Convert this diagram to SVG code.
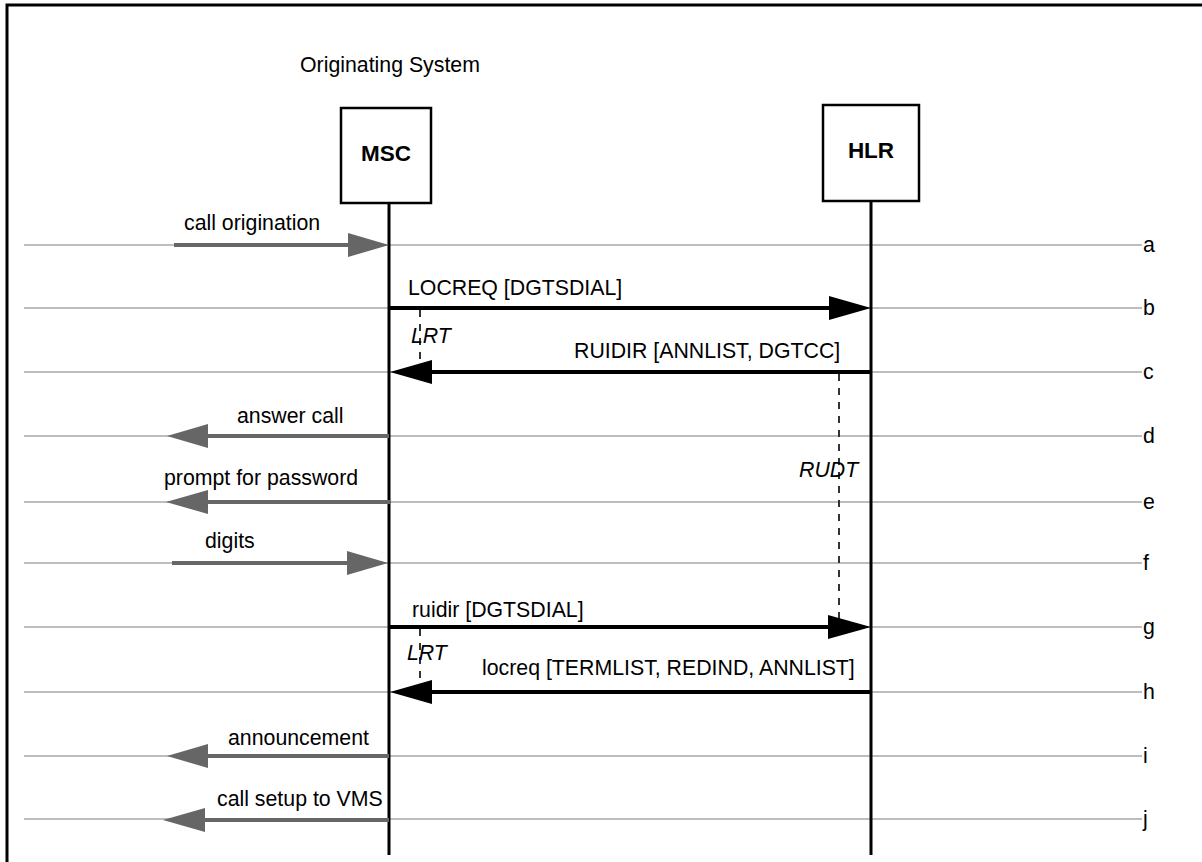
<svg xmlns="http://www.w3.org/2000/svg" width="1202" height="862" viewBox="0 0 1202 862">
<defs>
<style>
text{font-family:"Liberation Sans",Arial,sans-serif;font-size:21.3px;fill:#000}
.b{font-weight:bold;font-size:22.5px}
.it{font-style:italic}
.grid{stroke:#a8a8a8;stroke-width:1.5;fill:none}
.life{stroke:#000;stroke-width:3;fill:none}
.box{stroke:#000;stroke-width:2.5;fill:#fff}
.ga{stroke:#666;stroke-width:4;fill:none}
.gh{fill:#666}
.ba{stroke:#000;stroke-width:4;fill:none}
.bh{fill:#000}
.tm{stroke:#333;stroke-width:2;stroke-dasharray:7,7;fill:none}
</style>
</defs>
<rect width="1202" height="862" fill="#fff"/>
<path d="M7,862 V5 H1202" fill="none" stroke="#000" stroke-width="3"/>
<text x="300" y="72">Originating System</text>

<g id="grid">
<path class="grid" d="M24,245H1142M24,308H1142M24,372H1142M24,436H1142M24,502H1142M24,563H1142M24,627H1142M24,692H1142M24,756H1142M24,819H1142"/>
<text x="1143" y="252">a</text>
<text x="1143" y="315">b</text>
<text x="1143" y="379">c</text>
<text x="1143" y="443">d</text>
<text x="1143" y="509">e</text>
<text x="1143" y="570">f</text>
<text x="1143" y="634">g</text>
<text x="1143" y="699">h</text>
<text x="1143" y="763">i</text>
<text x="1143" y="826">j</text>
</g>

<g id="msc">
<line class="life" x1="389" y1="203" x2="389" y2="855"/>
<rect class="box" x="341" y="108" width="90" height="95"/>
<text class="b" x="386" y="161" text-anchor="middle">MSC</text>
</g>
<g id="hlr">
<line class="life" x1="871" y1="201" x2="871" y2="855"/>
<rect class="box" x="823" y="105" width="96" height="96"/>
<text class="b" x="871" y="158" text-anchor="middle">HLR</text>
</g>

<g id="timers">
<line class="tm" x1="420" y1="310" x2="420" y2="372"/>
<text class="it" x="411" y="343">LRT</text>
<line class="tm" x1="839" y1="374" x2="839" y2="627"/>
<text class="it" x="799" y="477">RUDT</text>
<line class="tm" x1="420" y1="629" x2="420" y2="692"/>
<text class="it" x="407" y="660">LRT</text>
</g>

<g id="connectors">
<line class="ga" x1="174" y1="245" x2="350" y2="245"/>
<polygon class="gh" points="348,233 389,245 348,257"/>
<text x="184" y="230">call origination</text>

<line class="ba" x1="389" y1="308" x2="831" y2="308"/>
<polygon class="bh" points="829,296 871,308 829,320"/>
<text x="408" y="295">LOCREQ [DGTSDIAL]</text>

<line class="ba" x1="871" y1="372" x2="430" y2="372"/>
<polygon class="bh" points="432,360 390,372 432,384"/>
<text x="574" y="358">RUIDIR [ANNLIST, DGTCC]</text>

<line class="ga" x1="389" y1="436" x2="206" y2="436"/>
<polygon class="gh" points="208,424 167,436 208,448"/>
<text x="237" y="423">answer call</text>

<line class="ga" x1="390" y1="502" x2="206" y2="502"/>
<polygon class="gh" points="208,490 166,502 208,514"/>
<text x="164" y="485">prompt for password</text>

<line class="ga" x1="172" y1="563" x2="349" y2="563"/>
<polygon class="gh" points="347,551 388,563 347,575"/>
<text x="205" y="548">digits</text>

<line class="ba" x1="389" y1="627" x2="830" y2="627"/>
<polygon class="bh" points="828,615 871,627 828,639"/>
<text x="412" y="617">ruidir [DGTSDIAL]</text>

<line class="ba" x1="871" y1="692" x2="430" y2="692"/>
<polygon class="bh" points="432,680 390,692 432,704"/>
<text x="482" y="675">locreq [TERMLIST, REDIND, ANNLIST]</text>

<line class="ga" x1="389" y1="756" x2="206" y2="756"/>
<polygon class="gh" points="208,744 167,756 208,768"/>
<text x="228" y="745">announcement</text>

<line class="ga" x1="389" y1="820" x2="203" y2="820"/>
<polygon class="gh" points="205,808 163,820 205,832"/>
<text x="217" y="806">call setup to VMS</text>
</g>
</svg>
